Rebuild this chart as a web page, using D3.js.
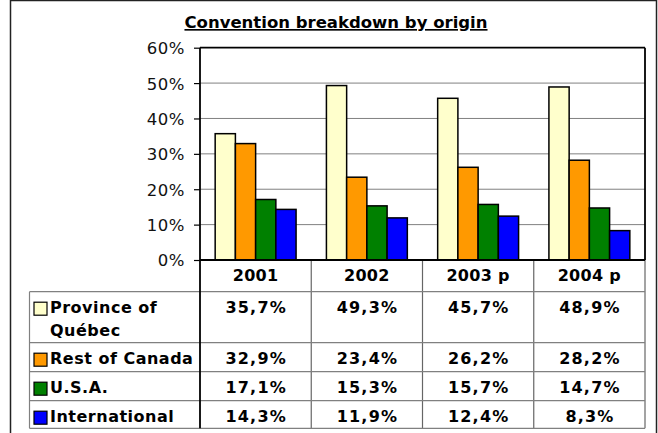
<!DOCTYPE html>
<html>
<head>
<meta charset="utf-8">
<script src="https://cdn.jsdelivr.net/npm/d3@7/dist/d3.min.js"></script>
<style>
  html, body { margin: 0; padding: 0; background: #fff; }
  svg { display: block; font-family: "DejaVu Sans", Verdana, sans-serif; }
</style>
</head>
<body>
<svg id="chart" width="658" height="433"></svg>
<script>
// ---- data ----
const title = "Convention breakdown by origin";
const categories = ["2001", "2002", "2003 p", "2004 p"];
const seriesNames = ["Province of Québec", "Rest of Canada", "U.S.A.", "International"];
const seriesColors = ["#FFFFCC", "#FF9900", "#008000", "#0000FF"];
const quebec = [35.7, 49.3, 45.7, 48.9];
const restOfCanada = [32.9, 23.4, 26.2, 28.2];
const usa = [17.1, 15.3, 15.7, 14.7];
const international = [14.3, 11.9, 12.4, 8.3];
const yTicks = [0, 10, 20, 30, 40, 50, 60];
const seriesValues = [quebec, restOfCanada, usa, international];

// ---- layout ----
const svg = d3.select("#chart");
const plot = { left: 200, right: 645, top: 47.7, bottom: 260 };
const tableLeft = 29.5;
const rowBounds = [291.7, 342.7, 371.7, 400.7, 428.3];

// outer frame
svg.append("rect").attr("x", 10.5).attr("y", 0.5).attr("width", 646).attr("height", 440)
  .attr("fill", "#fff").attr("stroke", "#222").attr("stroke-width", 1.5);

// title
svg.append("text").attr("x", 336).attr("y", 28).attr("text-anchor", "middle")
  .attr("font-size", 16.5).attr("font-weight", "bold").attr("text-decoration", "underline")
  .attr("fill", "#000").text(title);

const x0 = d3.scaleBand().domain(categories).range([plot.left, plot.right]).paddingInner(0).paddingOuter(0);
const x1 = d3.scaleBand().domain(d3.range(seriesNames.length)).range([0, x0.bandwidth()]).paddingInner(0).paddingOuter(0.75);
const y = d3.scaleLinear().domain([0, 60]).range([plot.bottom, plot.top]);

// plot background
svg.append("rect").attr("x", plot.left).attr("y", plot.top)
  .attr("width", plot.right - plot.left).attr("height", plot.bottom - plot.top).attr("fill", "#fff");

// gridlines
svg.append("g").selectAll("line").data(yTicks.filter(d => d > 0 && d < 60)).join("line")
  .attr("x1", plot.left).attr("x2", plot.right)
  .attr("y1", d => y(d)).attr("y2", d => y(d))
  .attr("stroke", "#808080").attr("stroke-width", 1);

// y axis
const yAxis = d3.axisLeft(y).tickValues(yTicks).tickSize(6).tickPadding(9).tickFormat(d => d + "%");
const ya = svg.append("g").attr("transform", `translate(${plot.left},0)`).call(yAxis);
ya.select(".domain").remove();
ya.selectAll(".tick line").attr("stroke", "#000").attr("stroke-width", 1.2);
ya.selectAll(".tick text").attr("font-size", 16.5).attr("fill", "#111")
  .attr("font-family", "DejaVu Sans, Verdana, sans-serif").attr("dy", "0.36em")
  .attr("letter-spacing", 0.5);

// bars
const groups = svg.append("g").selectAll("g").data(categories).join("g")
  .attr("transform", d => `translate(${x0(d)},0)`);
groups.selectAll("rect").data((c, ci) => seriesValues.map((vals, si) => ({ si, v: vals[ci] })))
  .join("rect")
  .attr("x", d => x1(d.si)).attr("width", x1.bandwidth())
  .attr("y", d => y(d.v)).attr("height", d => y(0) - y(d.v))
  .attr("fill", d => seriesColors[d.si]).attr("stroke", "#000").attr("stroke-width", 1.5);

// plot border (top, right)
svg.append("line").attr("x1", plot.left).attr("x2", plot.right).attr("y1", plot.top).attr("y2", plot.top)
  .attr("stroke", "#000").attr("stroke-width", 1.8);
svg.append("line").attr("x1", plot.right).attr("x2", plot.right).attr("y1", plot.top).attr("y2", plot.bottom)
  .attr("stroke", "#000").attr("stroke-width", 1.8);

// ---- data table ----
const tbl = svg.append("g");
categories.forEach((c, i) => {
  if (i > 0) {
    tbl.append("line").attr("x1", x0(c)).attr("x2", x0(c)).attr("y1", plot.bottom).attr("y2", rowBounds[rowBounds.length - 1])
      .attr("stroke", "#666").attr("stroke-width", 1.2);
  }
});
tbl.append("line").attr("x1", plot.right).attr("x2", plot.right).attr("y1", plot.bottom).attr("y2", rowBounds[rowBounds.length - 1])
  .attr("stroke", "#666").attr("stroke-width", 1.2);
rowBounds.forEach(rb => {
  tbl.append("line").attr("x1", tableLeft).attr("x2", plot.right).attr("y1", rb).attr("y2", rb)
    .attr("stroke", "#808080").attr("stroke-width", 1.2);
});
tbl.append("line").attr("x1", tableLeft).attr("x2", tableLeft).attr("y1", rowBounds[0]).attr("y2", rowBounds[rowBounds.length - 1])
  .attr("stroke", "#808080").attr("stroke-width", 1.2);

// category header labels
tbl.selectAll("text.cat").data(categories).join("text").attr("class", "cat")
  .attr("x", d => x0(d) + x0.bandwidth() / 2).attr("y", plot.bottom + 21)
  .attr("text-anchor", "middle").attr("font-size", 16).attr("font-weight", "bold").attr("fill", "#000")
  .attr("letter-spacing", 0.3)
  .text(d => d);

const fmt = v => d3.format(".1f")(v).replace(".", ",") + "%";

seriesNames.forEach((name, si) => {
  const top = rowBounds[si];
  tbl.append("rect").attr("x", 34).attr("y", top + 10.5).attr("width", 13).attr("height", 13)
    .attr("fill", seriesColors[si]).attr("stroke", "#000").attr("stroke-width", 1.2);
  const t = tbl.append("text").attr("x", 50).attr("y", top + 21.5)
    .attr("font-size", 16).attr("font-weight", "bold").attr("fill", "#000")
    .attr("letter-spacing", 0.5);
  const words = name.split(" ");
  let line = [];
  let tspan = t.append("tspan").attr("x", 50).attr("dy", 0);
  words.forEach(w => {
    line.push(w);
    tspan.text(line.join(" "));
    if (tspan.node().getComputedTextLength() > 146 && line.length > 1) {
      line.pop();
      tspan.text(line.join(" "));
      line = [w];
      tspan = t.append("tspan").attr("x", 50).attr("dy", 23).text(w);
    }
  });
  categories.forEach((c, ci) => {
    tbl.append("text").attr("x", x0(c) + x0.bandwidth() / 2 + 0.6).attr("y", top + 21.5)
      .attr("text-anchor", "middle").attr("font-size", 16).attr("font-weight", "bold").attr("fill", "#000")
      .attr("letter-spacing", 1.2)
      .text(fmt(seriesValues[si][ci]));
  });
});

// y axis line & x axis line
svg.append("line").attr("x1", plot.left).attr("x2", plot.left).attr("y1", plot.top).attr("y2", rowBounds[rowBounds.length - 1])
  .attr("stroke", "#000").attr("stroke-width", 1.8);
svg.append("line").attr("x1", plot.left).attr("x2", plot.right).attr("y1", plot.bottom).attr("y2", plot.bottom)
  .attr("stroke", "#000").attr("stroke-width", 1.8);
</script>
</body>
</html>
